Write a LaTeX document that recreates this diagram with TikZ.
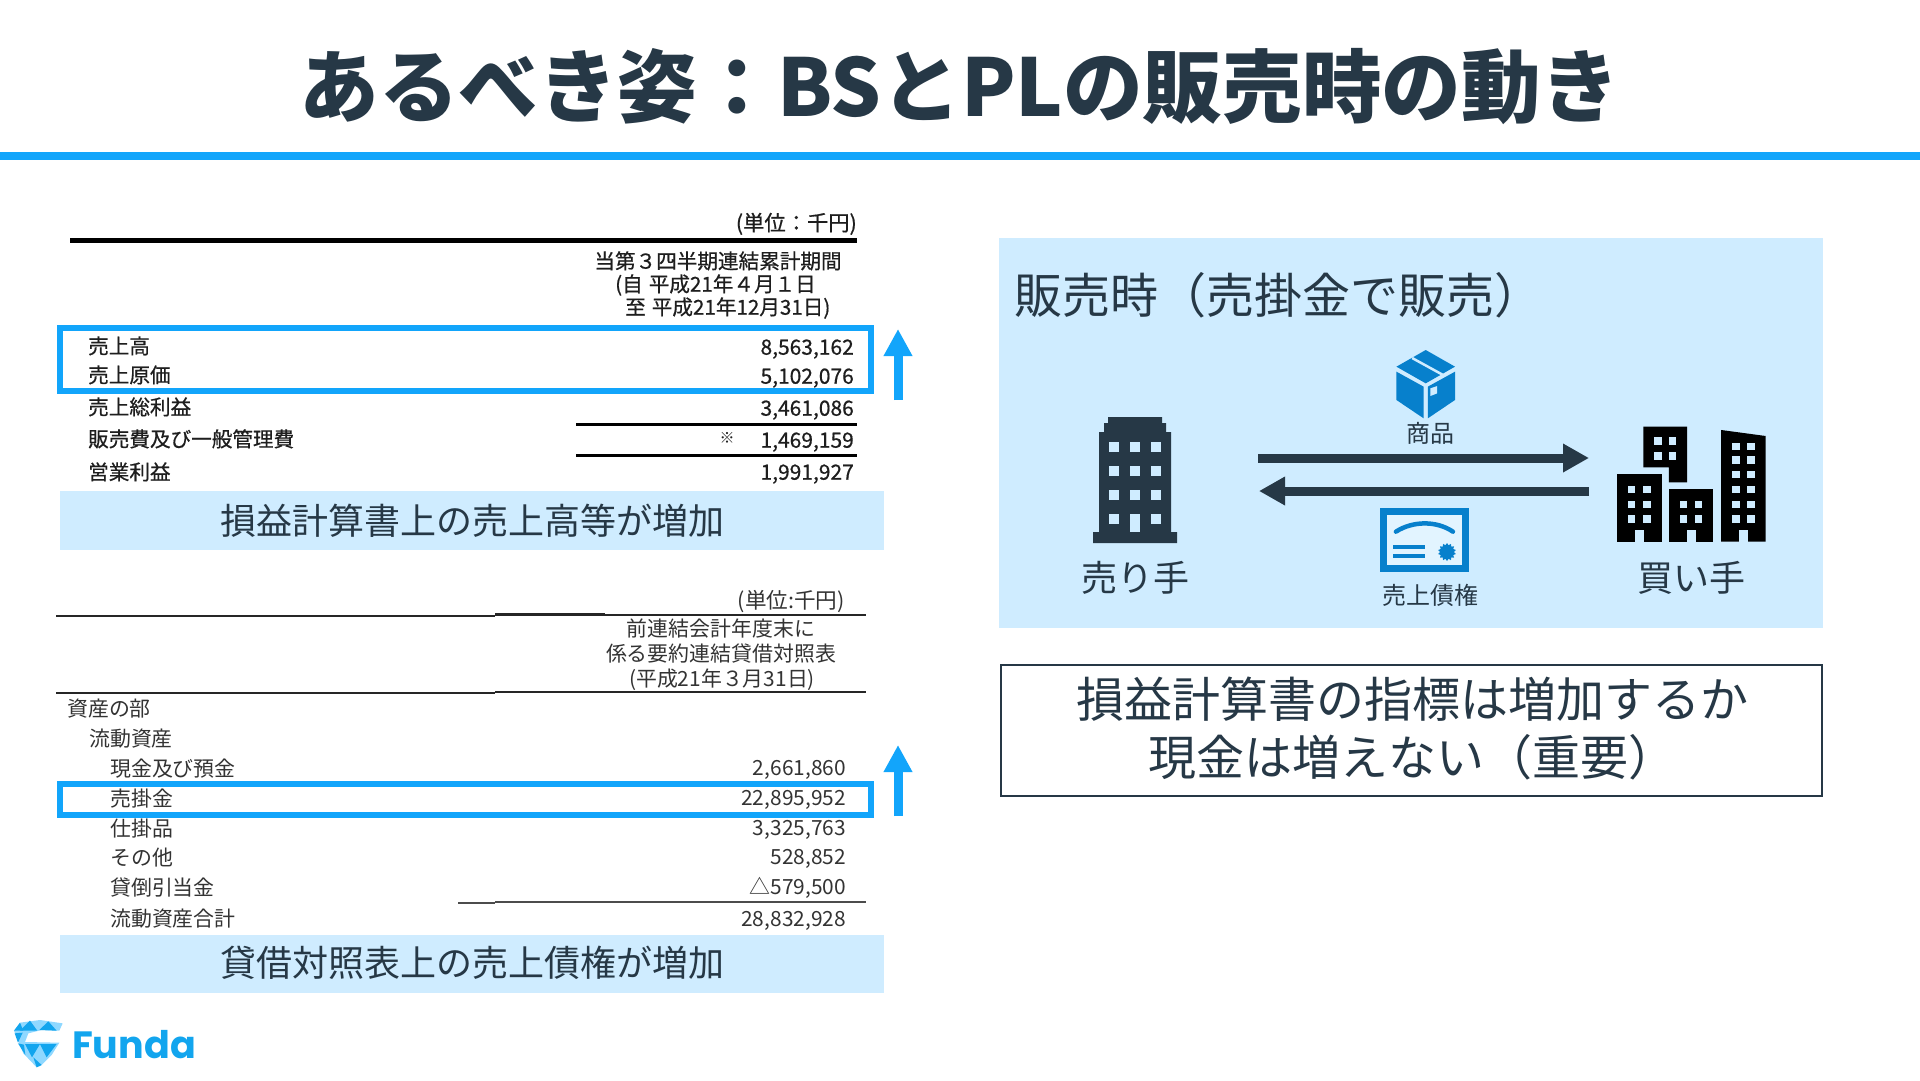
\documentclass[tikz,border=0pt]{standalone}
\usepackage{fontspec}
\usepackage{tikz}
\usetikzlibrary{arrows.meta,shapes.geometric}
\setmainfont{Noto Sans CJK JP}
\newfontfamily\tblfont[FakeBold=0.6]{Noto Sans CJK JP}
\newfontfamily\logofont{Poppins}
\definecolor{ink}{HTML}{263846}
\definecolor{brand}{HTML}{12A5FB}
\definecolor{pale}{HTML}{CFECFF}
\definecolor{iconblue}{HTML}{0780CC}
\definecolor{logolight}{HTML}{8FD8FF}
\definecolor{logoblue}{HTML}{12A5EE}
\definecolor{tblink}{HTML}{1E1E1E}
\definecolor{tblgray}{HTML}{333333}
\newcommand{\fs}[1]{\fontsize{#1}{#1}\selectfont}
\newcommand{\winat}[2]{\fill[windowfill] (#1-7,#2-11) rectangle (#1+7,#2+11);}
\tikzset{
  tb/.style={inner sep=0,text height=17.5pt,text depth=2.1pt,text=tblink,font=\tblfont\fs{20.6}},
  tbl/.style={tb,anchor=west},
  tbr/.style={tb,anchor=east,font=\tblfont\fs{21}},
  tbc/.style={tb,anchor=center},
  bs/.style={inner sep=0,text height=17.8pt,text depth=2.1pt,text=tblgray,font=\fs{20.9}},
  bsl/.style={bs,anchor=west},
  bsr/.style={bs,anchor=east},
  bsc/.style={bs,anchor=center},
  rule1/.style={draw=black,line width=3pt},
  rule2/.style={draw=black!85,line width=2.5pt},
  hilite/.style={draw=brand,line width=6pt,fill=none},
  banner/.style={fill=pale},
  bannertext/.style={inner sep=0,text=ink,font=\fs{36},text height=30.6pt,text depth=3.6pt},
  uparrow/.style={draw=brand,line width=9pt,-{Triangle[length=27pt,width=27pt]}},
  flowarrow/.style={draw=ink,line width=9pt,-{Triangle[length=26pt,width=27pt]}},
  partylabel/.style={inner sep=0,text=ink,font=\fs{36},text height=30.6pt,text depth=3.6pt},
  itemlabel/.style={inner sep=0,text=ink,font=\fs{24},text height=20.4pt,text depth=2.4pt},
  bigtext/.style={inner sep=0,text=ink,font=\fs{48},text height=40.8pt,text depth=4.8pt},
  windowfill/.style={fill=pale},
}
\begin{document}
\begin{tikzpicture}[x=1pt,y=-1pt]
\useasboundingbox (0,0) rectangle (1920,1080);
\fill[white] (0,0) rectangle (1920,1080);
% Title
\node[inner sep=0,text=ink,font=\bfseries\fs{79.6}] (title) at (960,87) {あるべき姿：BSとPLの販売時の動き};
\fill[brand] (0,152) rectangle (1920,160);

% Income statement
\node[tbr,font=\tblfont\fs{21.3}] (u1) at (857,223) {(単位：千円)};
\draw[black,line width=5pt] (70,240) -- (857,240);
\node[tbc] (h1) at (718,261) {当第３四半期連結累計期間};
\node[tbl] (h2) at (615,284) {(自\hspace{6pt}平成21年４月１日};
\node[tbl] (h3) at (625,307) {至\hspace{6pt}平成21年12月31日)};
\node[tbl] (r1) at (88,346) {売上高};
\node[tbl] (r2) at (88,375) {売上原価};
\node[tbl] (r3) at (88,407) {売上総利益};
\node[tbl] (r4) at (88,439) {販売費及び一般管理費};
\node[tbl] (r5) at (88,472) {営業利益};
\node[tbr] (n1) at (854,347) {8,563,162};
\node[tbr] (n2) at (854,376) {5,102,076};
\node[tbr] (n3) at (854,408) {3,461,086};
\node[tbr] (n4) at (854,440) {1,469,159};
\node[tbr] (n5) at (854,472) {1,991,927};
\node[inner sep=0,text=tblink,font=\fs{15},text height=12.8pt,text depth=1.5pt] (mark) at (727,438) {※};
\draw[rule1] (576,424) -- (857,424);
\draw[rule1] (576,455) -- (857,455);
\draw[hilite] (60,328) rectangle (871,391);
\coordinate (ua1) at (898,400);
\coordinate (ub1) at (898,329);
\draw[uparrow] (ua1) -- (ub1);
\fill[banner] (60,491) rectangle (884,550);
\node[bannertext] (bt1) at (472,521) {損益計算書上の売上高等が増加};

% Balance sheet
\node[bsr,font=\fs{21.6}] (u2) at (845,601) {(単位:千円)};
\draw[rule2] (56,616) -- (495,616);
\draw[rule2] (495,614.5) -- (605,614.5);
\draw[rule2] (605,615) -- (866,615);
\draw[rule2] (56,693) -- (495,693);
\draw[rule2] (495,692) -- (866,692);
\node[bsc] (b1) at (721,629) {前連結会計年度末に};
\node[bsc] (b2) at (721,654) {係る要約連結貸借対照表};
\node[bsc] (b3) at (722,679) {(平成21年３月31日)};
\node[bsl] (a1) at (67,709) {資産の部};
\node[bsl] (a2) at (89,739) {流動資産};
\node[bsl] (a3) at (110,769) {現金及び預金};
\node[bsl] (a4) at (110,799) {売掛金};
\node[bsl] (a5) at (110,829) {仕掛品};
\node[bsl] (a6) at (110,858) {その他};
\node[bsl] (a7) at (110,888) {貸倒引当金};
\node[bsl] (a8) at (110,919) {流動資産合計};
\node[bsr] (v3) at (846,768) {2,661,860};
\node[bsr] (v4) at (846,798) {22,895,952};
\node[bsr] (v5) at (846,828) {3,325,763};
\node[bsr] (v6) at (846,857) {528,852};
\node[bsr] (v7) at (846,887) {△579,500};
\node[bsr] (v8) at (846,919) {28,832,928};
\draw[draw=black!70,line width=2pt] (458,903) -- (495,903);
\draw[draw=black!70,line width=2pt] (495,902) -- (866,902);
\draw[hilite] (60,784) rectangle (871,815);
\coordinate (ua2) at (898,816);
\coordinate (ub2) at (898,745);
\draw[uparrow] (ua2) -- (ub2);
\fill[banner] (60,935) rectangle (884,993);
\node[bannertext] (bt2) at (472,963) {貸借対照表上の売上債権が増加};

% Right panel
\fill[banner] (999,238) rectangle (1823,628);
\node[bigtext,anchor=west] (pt) at (1014,295) {販売時（売掛金で販売）};

% Flow arrows
\coordinate (f1a) at (1258,458);
\coordinate (f1b) at (1589,458);
\coordinate (f2a) at (1589,491);
\coordinate (f2b) at (1259,491);
\draw[flowarrow] (f1a) -- (f1b);
\draw[flowarrow] (f2a) -- (f2b);

% Seller building
\fill[ink] (1093,543) -- (1093,532) -- (1099,532) -- (1099,432) -- (1104,432) -- (1104,423) -- (1108,423) -- (1108,417) -- (1162,417) -- (1162,423) -- (1166,423) -- (1166,432) -- (1171,432) -- (1171,532) -- (1177,532) -- (1177,543) -- cycle;
\foreach \yy in {447,471,495} \foreach \xx in {1114,1135,1156}
  \fill[pale] (\xx-4.7,\yy-4.7) rectangle (\xx+4.7,\yy+4.7);
\foreach \xx in {1114,1156} \fill[pale] (\xx-4.7,514.3) rectangle (\xx+4.7,523.7);
\fill[pale] (1130.3,514.3) rectangle (1139.7,532);
\node[partylabel] (seller) at (1135,578) {売り手};
\node[partylabel] (buyer) at (1691,578) {買い手};

% Icons drawn in zoom coordinates
\begin{scope}[shift={(1000,330)},x=0.523pt,y=-0.3333pt]
  % buyer buildings
  \fill[black] (1230,290) -- (1314,290) -- (1314,457) -- (1279,457) -- (1279,412) -- (1230,412) -- cycle;
  \fill[black] (1180,433) -- (1265,433) -- (1265,635) -- (1180,635) -- cycle;
  \fill[black] (1279,478) -- (1364,478) -- (1364,635) -- (1279,635) -- cycle;
  \fill[black] (1379,300) -- (1464,318) -- (1464,635) -- (1379,635) -- cycle;
  \foreach \xx in {1258,1286} \foreach \yy in {333,378} \winat{\xx}{\yy}
  \foreach \xx in {1208,1237} \foreach \yy in {479,523,567} \winat{\xx}{\yy}
  \foreach \xx in {1307,1336} \foreach \yy in {523,567} \winat{\xx}{\yy}
  \foreach \xx in {1407,1436} \foreach \yy in {350,390,434,478,523,567} \winat{\xx}{\yy}
  \foreach \xx in {1214,1313,1413} \fill[pale] (\xx,600) rectangle (\xx+17,636);
  % package
  \fill[iconblue] (758,125) -- (810,170) -- (810,265) -- (758,210) -- cycle;
  \fill[iconblue] (818,170) -- (870,125) -- (870,210) -- (818,265) -- cycle;
  \fill[iconblue] (758,110) -- (814,60) -- (870,110) -- (814,160) -- cycle;
  \draw[pale,line width=2.5pt] (788,84) -- (846,134);
  \fill[pale] (823,175) -- (836,168) -- (836,190) -- (823,198) -- cycle;
  % certificate
  \fill[iconblue] (727,535) rectangle (897,725);
  \fill[pale!60!white] (740,555) rectangle (884,705);
  \draw[iconblue,line width=4.5pt,line cap=round] (757,605) .. controls (790,572) and (835,572) .. (866,605);
  \fill[iconblue] (752,644) rectangle (812,657);
  \fill[iconblue] (752,671) rectangle (812,684);
\end{scope}
\node[star,star points=14,star point ratio=1.3,fill=iconblue,minimum size=18pt,inner sep=0] (seal) at (1447,552) {};
\node[itemlabel] (goods) at (1430,433) {商品};
\node[itemlabel] (ar) at (1430,595) {売上債権};

% Conclusion box
\draw[draw=ink,line width=2.5pt] (1001,665) rectangle (1822,796);
\node[bigtext] (c1) at (1412,699) {損益計算書の指標は増加するか};
\node[bigtext] (c2) at (1412,757) {現金は増えない（重要）};

% Logo
\begin{scope}[shift={(0,1000)},x=0.3333pt,y=-0.3333pt]
  \fill[logolight] (42,92) -- (60,68) -- (120,60) -- (188,70) -- (178,92) -- (125,90) -- (85,100) -- (75,126) -- (178,128) -- (155,165) -- (125,195) -- (110,202) -- (70,160) -- cycle;
  \fill[logoblue] (60,92) -- (90,62) -- (112,92) -- cycle;
  \fill[logoblue] (118,90) -- (145,64) -- (170,92) -- cycle;
  \fill[logoblue] (42,92) -- (60,68) -- (70,92) -- cycle;
  \fill[logoblue] (44,100) -- (68,98) -- (54,128) -- cycle;
  \fill[logoblue] (75,132) -- (120,132) -- (96,172) -- cycle;
  \fill[logoblue] (120,132) -- (170,132) -- (140,172) -- cycle;
  \fill[logoblue] (54,130) -- (76,165) -- (72,134) -- cycle;
  \fill[logoblue] (100,172) -- (125,195) -- (110,202) -- cycle;
\end{scope}
\node[anchor=base west,inner sep=0,text=logoblue,font=\logofont\bfseries\fs{38}] (funda) at (72,1058) {Funda};
\end{tikzpicture}
\end{document}
